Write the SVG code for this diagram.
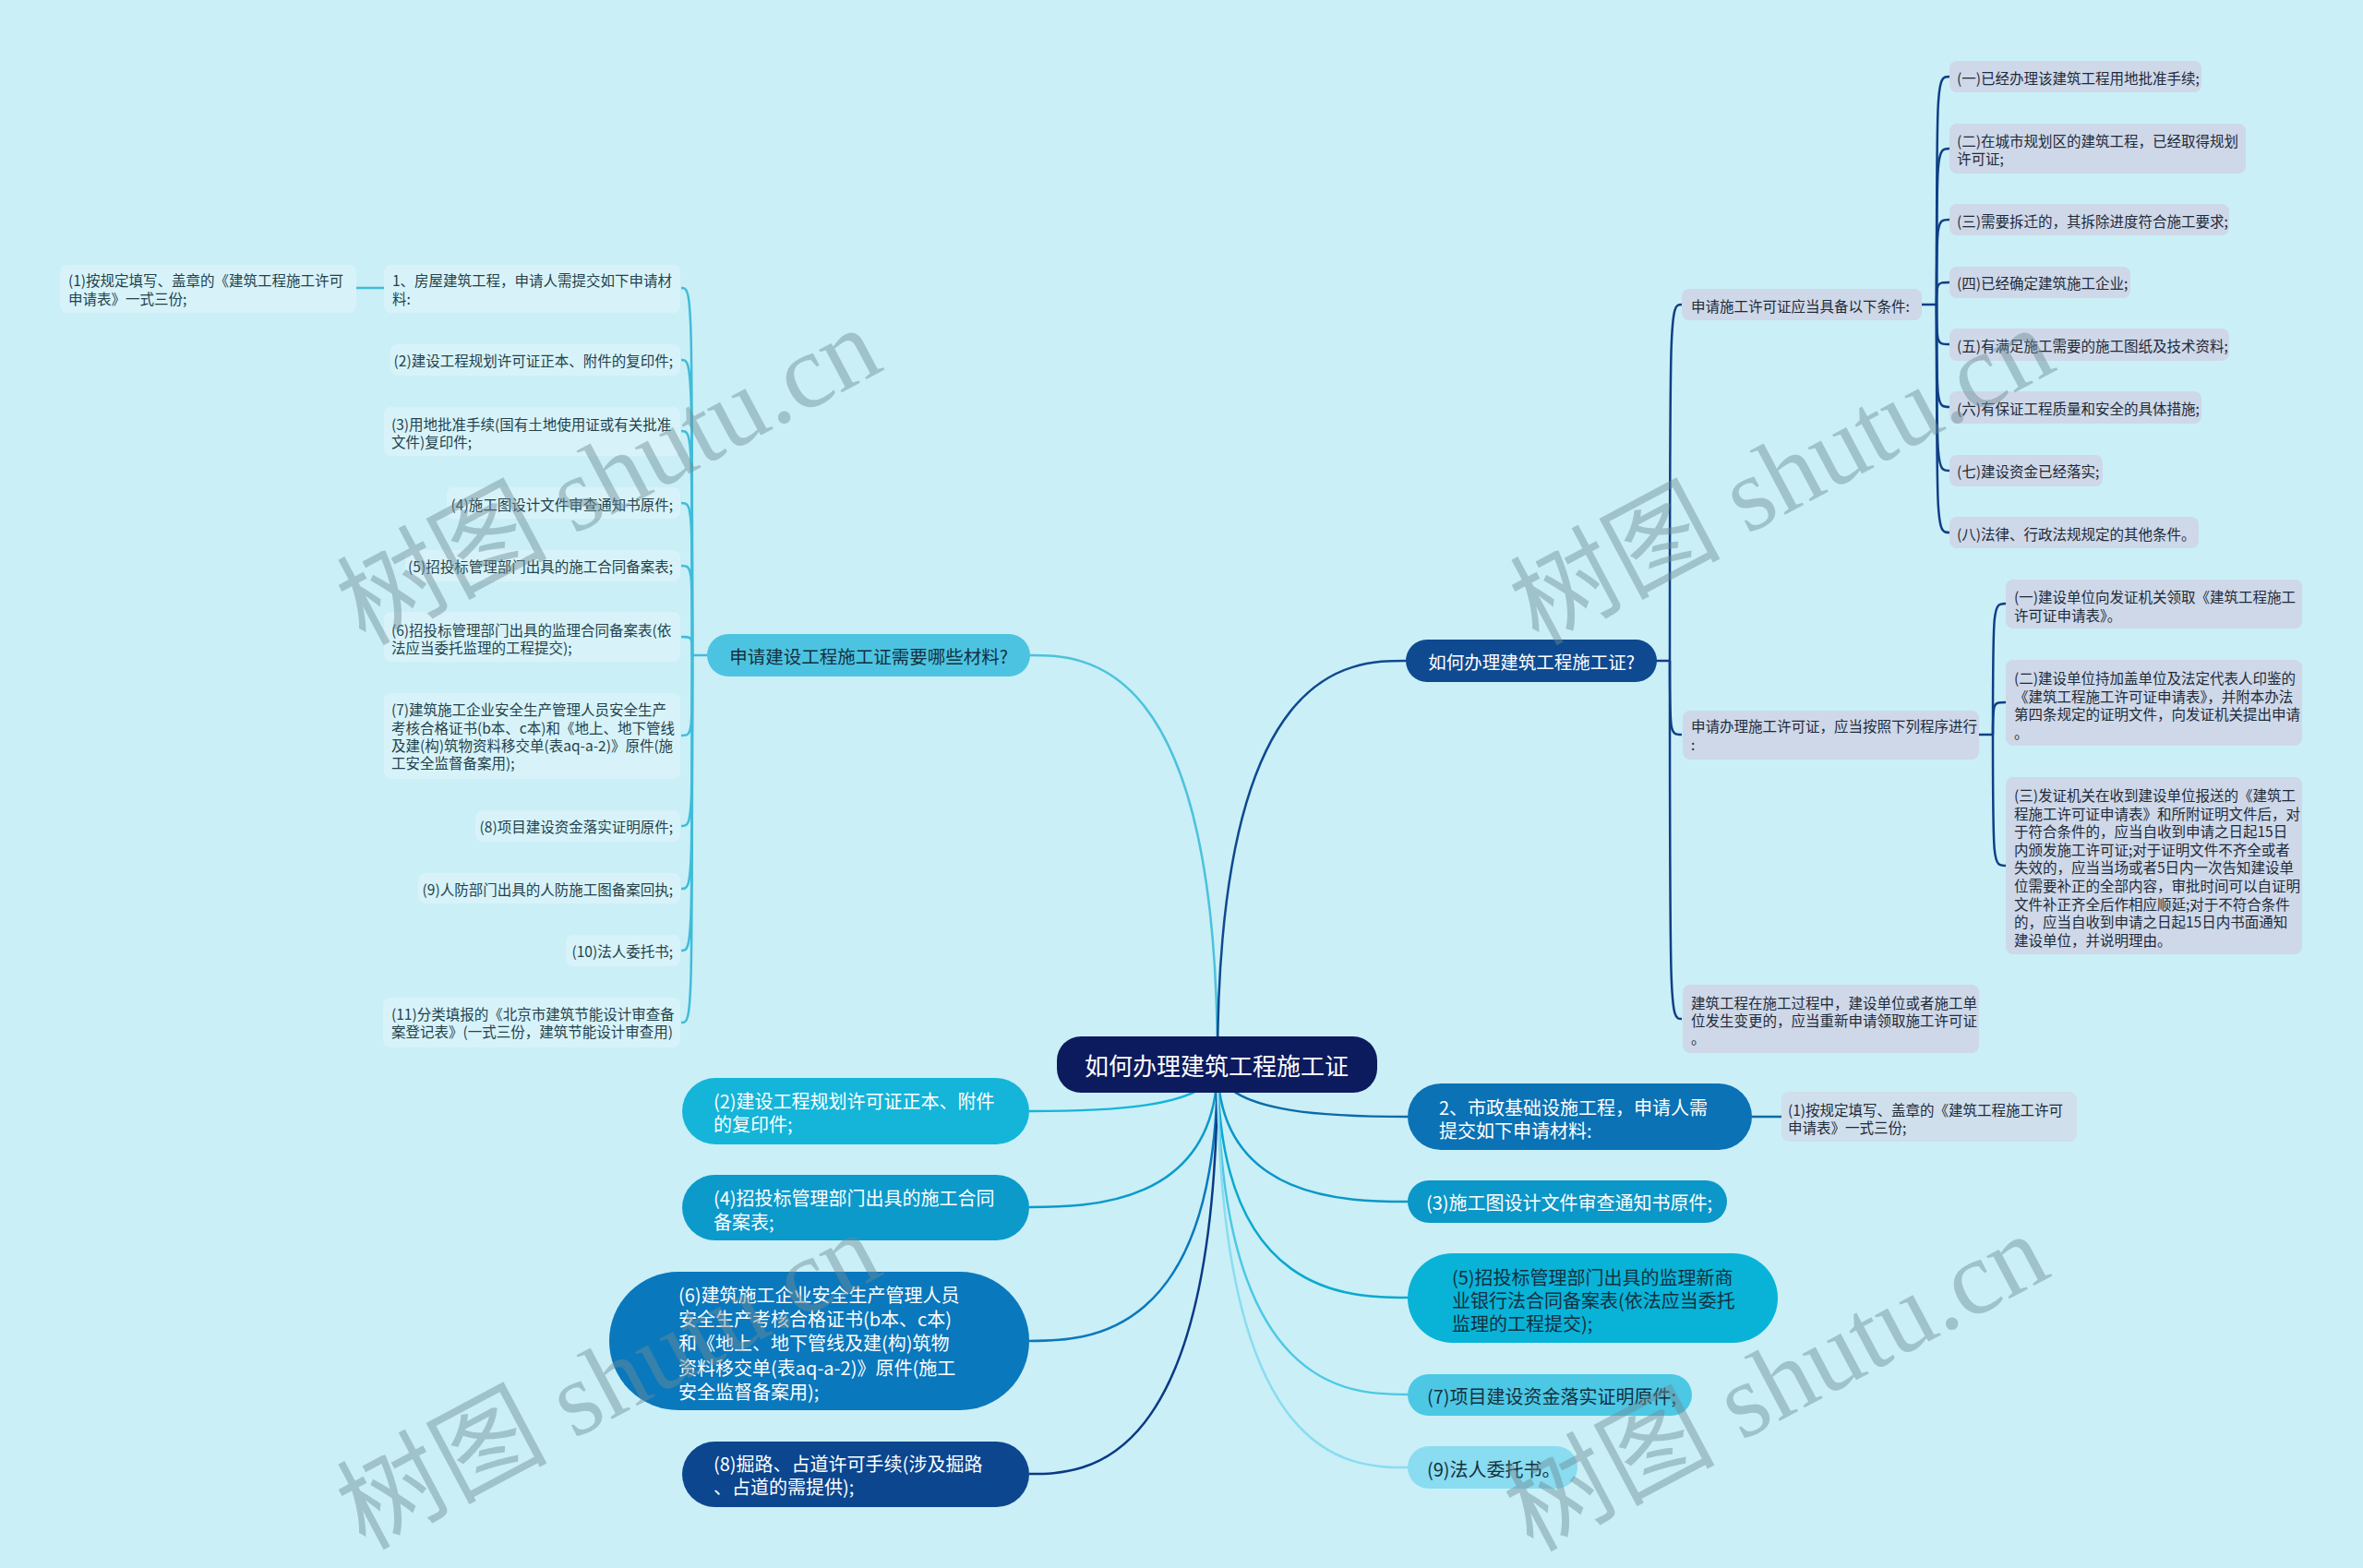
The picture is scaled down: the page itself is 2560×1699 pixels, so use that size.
<svg xmlns="http://www.w3.org/2000/svg" width="2560" height="1699" viewBox="0 0 2560 1699">
<style>
text{font-family:'Noto Sans CJK SC','Noto Sans',sans-serif;dominant-baseline:central}
.s{font-size:15.5px}
.m{font-size:20px}
.l1{font-size:19.5px}
.tl{fill:#24414b}
.tr{fill:#1e2a38}
.w{fill:#ffffff}
.k{fill:#14303d}
.dl{fill:#d7f3f9}
.dr{fill:#ced8e8}
.c{fill:none;stroke-width:2.5}
.cl{stroke:#40bcd8}
.cr{stroke:#0f3f85}
.wm{font-family:'Liberation Serif','Noto Sans CJK SC',serif;font-size:114px;fill:#6e8c96;opacity:0.45;dominant-baseline:auto}
</style>
<rect width="2560" height="1699" fill="#caeff7"/>
<g id="connectors">
<path class="c" stroke="#4cc2dd" stroke-width="3" d="M1319,1153 C1319,710 1176,710 1115,710"/>
<path class="c" stroke="#0f4a90" stroke-width="3" d="M1319,1153 C1319,716 1462,716 1523,716"/>
<path class="c" stroke="#14b5d9" stroke-width="3" d="M1319,1153 C1319,1204 1176,1204 1115,1204"/>
<path class="c" stroke="#0c9acb" stroke-width="3" d="M1319,1153 C1319,1308 1176,1308 1115,1308"/>
<path class="c" stroke="#0a78bd" stroke-width="3" d="M1319,1153 C1319,1453 1176,1453 1115,1453"/>
<path class="c" stroke="#0b3a85" stroke-width="3" d="M1319,1153 C1319,1597 1176,1597 1115,1597"/>
<path class="c" stroke="#0a6aa8" stroke-width="3" d="M1319,1153 C1319,1210 1462,1210 1525,1210"/>
<path class="c" stroke="#0b97c8" stroke-width="3" d="M1319,1153 C1319,1302 1462,1302 1525,1302"/>
<path class="c" stroke="#09a9cf" stroke-width="3" d="M1319,1153 C1319,1406 1462,1406 1525,1406"/>
<path class="c" stroke="#4cc8e5" stroke-width="3" d="M1319,1153 C1319,1511 1462,1511 1525,1511"/>
<path class="c" stroke="#8adcf0" stroke-width="3" d="M1319,1153 C1319,1590 1462,1590 1525,1590"/>
<path class="c cl" d="M766,710 L750,710"/>
<path class="c cl" d="M750,710 C750,312 750,312 738,312"/>
<path class="c cl" d="M750,710 C750,390 750,390 738,390"/>
<path class="c cl" d="M750,710 C750,467 750,467 738,467"/>
<path class="c cl" d="M750,710 C750,545 750,545 738,545"/>
<path class="c cl" d="M750,710 C750,613 750,613 738,613"/>
<path class="c cl" d="M750,710 C750,690 750,690 738,690"/>
<path class="c cl" d="M750,710 C750,797 750,797 738,797"/>
<path class="c cl" d="M750,710 C750,895 750,895 738,895"/>
<path class="c cl" d="M750,710 C750,963 750,963 738,963"/>
<path class="c cl" d="M750,710 C750,1030 750,1030 738,1030"/>
<path class="c cl" d="M750,710 C750,1108 750,1108 738,1108"/>
<path class="c cl" d="M416,312 L386,312"/>
<path class="c cr" d="M1794,716 L1809,716"/>
<path class="c cr" d="M1809,716 C1809,330 1809,330 1822,330"/>
<path class="c cr" d="M1809,716 C1809,796 1809,796 1822,796"/>
<path class="c cr" d="M1809,716 C1809,1104 1809,1104 1822,1104"/>
<path class="c cr" d="M2082,330 L2098,330"/>
<path class="c cr" d="M2098,330 C2098,83 2098,83 2112,83"/>
<path class="c cr" d="M2098,330 C2098,161 2098,161 2112,161"/>
<path class="c cr" d="M2098,330 C2098,238 2098,238 2112,238"/>
<path class="c cr" d="M2098,330 C2098,306 2098,306 2112,306"/>
<path class="c cr" d="M2098,330 C2098,373 2098,373 2112,373"/>
<path class="c cr" d="M2098,330 C2098,441 2098,441 2112,441"/>
<path class="c cr" d="M2098,330 C2098,510 2098,510 2112,510"/>
<path class="c cr" d="M2098,330 C2098,577 2098,577 2112,577"/>
<path class="c cr" d="M2144,796 L2159,796"/>
<path class="c cr" d="M2159,796 C2159,654 2159,654 2173,654"/>
<path class="c cr" d="M2159,796 C2159,761 2159,761 2173,761"/>
<path class="c cr" d="M2159,796 C2159,938 2159,938 2173,938"/>
<path class="c" stroke="#0a6aa8" d="M1898,1210 L1930,1210"/>
</g>
<g id="root"><rect x="1145" y="1123" width="347" height="61" rx="26" fill="#0c1b5e"/><text x="1318" y="1153" text-anchor="middle" class="w" font-size="26">如何办理建筑工程施工证</text></g>
<g id="n-left-l1"><rect x="766" y="687" width="350" height="46" rx="23" fill="#4cc4e1"/><text x="941" y="710" text-anchor="middle" class="l1 k">申请建设工程施工证需要哪些材料?</text></g>
<g id="n-right-l1"><rect x="1523" y="693" width="272" height="46" rx="23" fill="#0f4a90"/><text x="1659" y="716" text-anchor="middle" class="l1 w">如何办理建筑工程施工证?</text></g>
<g id="nl-1a"><rect class="dl" x="65" y="287" width="321" height="52" rx="8"/><text class="s tl"><tspan x="74" y="303">(1)按规定填写、盖章的《建筑工程施工许可</tspan><tspan x="74" y="323">申请表》一式三份;</tspan></text></g>
<g id="nl-1"><rect class="dl" x="416" y="287" width="321" height="52" rx="8"/><text class="s tl"><tspan x="425" y="303">1、房屋建筑工程，申请人需提交如下申请材</tspan><tspan x="425" y="323">料:</tspan></text></g>
<g id="nl-2"><rect class="dl" x="423" y="373" width="314" height="34" rx="8"/><text class="s tl" x="729" y="390" text-anchor="end">(2)建设工程规划许可证正本、附件的复印件;</text></g>
<g id="nl-3"><rect class="dl" x="416" y="441" width="321" height="53" rx="8"/><text class="s tl"><tspan x="424" y="459">(3)用地批准手续(国有土地使用证或有关批准</tspan><tspan x="424" y="478">文件)复印件;</tspan></text></g>
<g id="nl-4"><rect class="dl" x="484" y="528" width="253" height="34" rx="8"/><text class="s tl" x="729" y="546" text-anchor="end">(4)施工图设计文件审查通知书原件;</text></g>
<g id="nl-5"><rect class="dl" x="439" y="596" width="298" height="34" rx="8"/><text class="s tl" x="729" y="613" text-anchor="end">(5)招投标管理部门出具的施工合同备案表;</text></g>
<g id="nl-6"><rect class="dl" x="416" y="663" width="321" height="54" rx="8"/><text class="s tl"><tspan x="424" y="682">(6)招投标管理部门出具的监理合同备案表(依</tspan><tspan x="424" y="701">法应当委托监理的工程提交);</tspan></text></g>
<g id="nl-7"><rect class="dl" x="416" y="751" width="321" height="93" rx="8"/><text class="s tl"><tspan x="424" y="768">(7)建筑施工企业安全生产管理人员安全生产</tspan><tspan x="424" y="787.5">考核合格证书(b本、c本)和《地上、地下管线</tspan><tspan x="424" y="807">及建(构)筑物资料移交单(表aq-a-2)》原件(施</tspan><tspan x="424" y="826">工安全监督备案用);</tspan></text></g>
<g id="nl-8"><rect class="dl" x="515" y="878" width="222" height="34" rx="8"/><text class="s tl" x="729" y="895" text-anchor="end">(8)项目建设资金落实证明原件;</text></g>
<g id="nl-9"><rect class="dl" x="453" y="946" width="284" height="33" rx="8"/><text class="s tl" x="729" y="963" text-anchor="end">(9)人防部门出具的人防施工图备案回执;</text></g>
<g id="nl-10"><rect class="dl" x="613" y="1013" width="124" height="34" rx="8"/><text class="s tl" x="729" y="1030" text-anchor="end">(10)法人委托书;</text></g>
<g id="nl-11"><rect class="dl" x="415" y="1081" width="322" height="54" rx="8"/><text class="s tl"><tspan x="424" y="1098">(11)分类填报的《北京市建筑节能设计审查备</tspan><tspan x="424" y="1117">案登记表》(一式三份，建筑节能设计审查用)</tspan></text></g>
<g id="nr-a"><rect class="dr" x="1822" y="313" width="260" height="34" rx="8"/><text class="s tr" x="1832" y="331">申请施工许可证应当具备以下条件:</text></g>
<g id="nr-a1"><rect class="dr" x="2112" y="66" width="273" height="34" rx="8"/><text class="s tr" x="2120" y="84">(一)已经办理该建筑工程用地批准手续;</text></g>
<g id="nr-a2"><rect class="dr" x="2112" y="134" width="321" height="54" rx="8"/><text class="s tr"><tspan x="2120" y="152">(二)在城市规划区的建筑工程，已经取得规划</tspan><tspan x="2120" y="171">许可证;</tspan></text></g>
<g id="nr-a3"><rect class="dr" x="2112" y="221" width="303" height="34" rx="8"/><text class="s tr" x="2120" y="239">(三)需要拆迁的，其拆除进度符合施工要求;</text></g>
<g id="nr-a4"><rect class="dr" x="2112" y="289" width="196" height="34" rx="8"/><text class="s tr" x="2120" y="306">(四)已经确定建筑施工企业;</text></g>
<g id="nr-a5"><rect class="dr" x="2112" y="356" width="303" height="35" rx="8"/><text class="s tr" x="2120" y="374">(五)有满足施工需要的施工图纸及技术资料;</text></g>
<g id="nr-a6"><rect class="dr" x="2112" y="424" width="273" height="35" rx="8"/><text class="s tr" x="2120" y="442">(六)有保证工程质量和安全的具体措施;</text></g>
<g id="nr-a7"><rect class="dr" x="2112" y="493" width="166" height="34" rx="8"/><text class="s tr" x="2120" y="510">(七)建设资金已经落实;</text></g>
<g id="nr-a8"><rect class="dr" x="2112" y="560" width="270" height="34" rx="8"/><text class="s tr" x="2120" y="578">(八)法律、行政法规规定的其他条件。</text></g>
<g id="nr-b"><rect class="dr" x="1823" y="770" width="321" height="53" rx="8"/><text class="s tr"><tspan x="1832" y="786">申请办理施工许可证，应当按照下列程序进行</tspan><tspan x="1832" y="806">:</tspan></text></g>
<g id="nr-b1"><rect class="dr" x="2173" y="628" width="321" height="53" rx="8"/><text class="s tr"><tspan x="2182" y="646">(一)建设单位向发证机关领取《建筑工程施工</tspan><tspan x="2182" y="666">许可证申请表》。</tspan></text></g>
<g id="nr-b2"><rect class="dr" x="2173" y="715" width="321" height="93" rx="8"/><text class="s tr"><tspan x="2182" y="734">(二)建设单位持加盖单位及法定代表人印鉴的</tspan><tspan x="2182" y="754">《建筑工程施工许可证申请表》，并附本办法</tspan><tspan x="2182" y="773">第四条规定的证明文件，向发证机关提出申请</tspan><tspan x="2182" y="793">。</tspan></text></g>
<g id="nr-b3"><rect class="dr" x="2173" y="842" width="321" height="192" rx="8"/><text class="s tr"><tspan x="2182" y="861">(三)发证机关在收到建设单位报送的《建筑工</tspan><tspan x="2182" y="880.6">程施工许可证申请表》和所附证明文件后，对</tspan><tspan x="2182" y="900.2">于符合条件的，应当自收到申请之日起15日</tspan><tspan x="2182" y="919.8">内颁发施工许可证;对于证明文件不齐全或者</tspan><tspan x="2182" y="939.4">失效的，应当当场或者5日内一次告知建设单</tspan><tspan x="2182" y="959">位需要补正的全部内容，审批时间可以自证明</tspan><tspan x="2182" y="978.6">文件补正齐全后作相应顺延;对于不符合条件</tspan><tspan x="2182" y="998.2">的，应当自收到申请之日起15日内书面通知</tspan><tspan x="2182" y="1017.8">建设单位，并说明理由。</tspan></text></g>
<g id="nr-c"><rect class="dr" x="1823" y="1067" width="321" height="74" rx="8"/><text class="s tr"><tspan x="1832" y="1086">建筑工程在施工过程中，建设单位或者施工单</tspan><tspan x="1832" y="1105">位发生变更的，应当重新申请领取施工许可证</tspan><tspan x="1832" y="1124">。</tspan></text></g>
<g id="nb-l2"><rect x="739" y="1168" width="376" height="72" rx="36" fill="#14b5d9"/><text class="m w"><tspan x="773" y="1192">(2)建设工程规划许可证正本、附件</tspan><tspan x="773" y="1217">的复印件;</tspan></text></g>
<g id="nb-l4"><rect x="739" y="1273" width="376" height="71" rx="35.5" fill="#0c9acb"/><text class="m w"><tspan x="773" y="1297">(4)招投标管理部门出具的施工合同</tspan><tspan x="773" y="1323">备案表;</tspan></text></g>
<g id="nb-l6"><rect x="660" y="1378" width="455" height="150" rx="75" fill="#0a78bd"/><text class="m w"><tspan x="735" y="1402">(6)建筑施工企业安全生产管理人员</tspan><tspan x="735" y="1428">安全生产考核合格证书(b本、c本)</tspan><tspan x="735" y="1454">和《地上、地下管线及建(构)筑物</tspan><tspan x="735" y="1481">资料移交单(表aq-a-2)》原件(施工</tspan><tspan x="735" y="1507">安全监督备案用);</tspan></text></g>
<g id="nb-l8"><rect x="739" y="1562" width="376" height="71" rx="35.5" fill="#0b468f"/><text class="m w"><tspan x="773" y="1585">(8)掘路、占道许可手续(涉及掘路</tspan><tspan x="773" y="1610">、占道的需提供);</tspan></text></g>
<g id="nb-r2"><rect x="1525" y="1174" width="373" height="72" rx="36" fill="#0a72b5"/><text class="m w"><tspan x="1559" y="1199">2、市政基础设施工程，申请人需</tspan><tspan x="1559" y="1224">提交如下申请材料:</tspan></text></g>
<g id="nb-r2a"><rect x="1930" y="1183" width="320" height="54" rx="8" fill="#d0dfec"/><text class="s tr"><tspan x="1937" y="1202">(1)按规定填写、盖章的《建筑工程施工许可</tspan><tspan x="1937" y="1221">申请表》一式三份;</tspan></text></g>
<g id="nb-r3"><rect x="1525" y="1279" width="346" height="46" rx="23" fill="#0b97c8"/><text class="m w" x="1545" y="1302">(3)施工图设计文件审查通知书原件;</text></g>
<g id="nb-r5"><rect x="1525" y="1358" width="401" height="97" rx="48.5" fill="#09b3d8"/><text class="m k"><tspan x="1573" y="1383">(5)招投标管理部门出具的监理新商</tspan><tspan x="1573" y="1408">业银行法合同备案表(依法应当委托</tspan><tspan x="1573" y="1433">监理的工程提交);</tspan></text></g>
<g id="nb-r7"><rect x="1525" y="1489" width="308" height="45" rx="22.5" fill="#4cc8e5"/><text class="m k" x="1546" y="1512">(7)项目建设资金落实证明原件;</text></g>
<g id="nb-r9"><rect x="1525" y="1567" width="184" height="46" rx="23" fill="#8adcf0"/><text class="m k" x="1546" y="1591">(9)法人委托书。</text></g>
<g id="watermark">
<text class="wm" transform="translate(395,700) rotate(-28)">树图 shutu.cn</text>
<text class="wm" transform="translate(1666,700) rotate(-28)">树图 shutu.cn</text>
<text class="wm" transform="translate(395,1680) rotate(-28)">树图 shutu.cn</text>
<text class="wm" transform="translate(1660,1682) rotate(-28)">树图 shutu.cn</text>
</g>
</svg>
